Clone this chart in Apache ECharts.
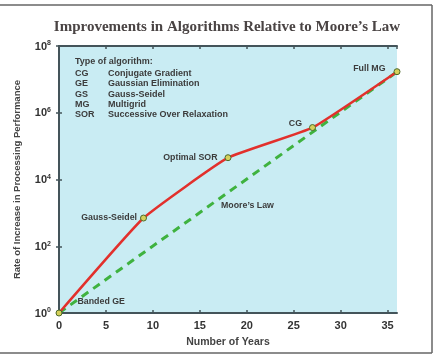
<!DOCTYPE html>
<html><head><meta charset="utf-8">
<script src="https://cdn.jsdelivr.net/npm/echarts@6/dist/echarts.min.js"></script>
<style>html,body{margin:0;padding:0;background:#fff}#c{width:435px;height:356px}</style>
</head><body><div id="c"></div>
<script>
// Data
const algoNames = ['Banded GE', 'Gauss-Seidel', 'Optimal SOR', 'CG', 'Full MG'];
const algoYears = [0, 9, 18, 27, 36];
const algoGain = [1, 700, 45000, 360000, 17000000];
const mooreYears = [0, 36];
const mooreGain = [1, 16800000];
const xTicks = [0, 5, 10, 15, 20, 25, 30, 35];
const yTickExps = [0, 2, 4, 6, 8];
const legendAbbr = ['CG', 'GE', 'GS', 'MG', 'SOR'];
const legendFull = ['Conjugate Gradient', 'Gaussian Elimination', 'Gauss-Seidel', 'Multigrid', 'Successive Over Relaxation'];

const labelFont = {fontFamily: 'Liberation Sans', fontWeight: 'bold', fontSize: 8.8, color: '#3c3c3c'};
const labelPos = [
  {position: 'right', offset: [10, -11]},
  {position: 'left', distance: 3},
  {position: 'left', distance: 7},
  {position: 'left', offset: [0, -4], distance: 7},
  {position: 'left', offset: [0, -3], distance: 8}
];

const algoData = algoYears.map((x, i) => ({
  value: [x, algoGain[i]],
  label: Object.assign({show: true, formatter: algoNames[i]}, labelFont, labelPos[i])
}));
const mooreData = mooreYears.map((x, i) => [x, mooreGain[i]]);

const axisColor = '#44545a';
const chart = echarts.init(document.getElementById('c'), null, {renderer: 'canvas'});

const legFont = 'bold 9px "Liberation Sans"';
const legendGraphics = [{
  type: 'text', left: 75, top: 57,
  style: {text: 'Type of algorithm:', font: legFont, fill: '#3c3c3c'}
}];
legendAbbr.forEach((a, i) => {
  legendGraphics.push({type: 'text', left: 75, top: 69 + i * 10.3,
    style: {text: a, font: legFont, fill: '#3c3c3c'}});
  legendGraphics.push({type: 'text', left: 108, top: 69 + i * 10.3,
    style: {text: legendFull[i], font: legFont, fill: '#3c3c3c'}});
});

chart.setOption({
  animation: false,
  backgroundColor: '#ffffff',
  title: {
    text: 'Improvements in Algorithms Relative to Moore\u2019s Law',
    left: 222, top: 15, textAlign: 'center',
    textStyle: {fontFamily: 'Liberation Serif', fontWeight: 'bold', fontSize: 15, color: '#4a4444'}
  },
  grid: {left: 59, right: 38, top: 46, bottom: 43, show: true, backgroundColor: '#c9ecf3', borderWidth: 0},
  xAxis: [{
    type: 'value', min: 0, max: 36, interval: 5,
    name: 'Number of Years', nameLocation: 'middle', nameGap: 24,
    nameTextStyle: {fontFamily: 'Liberation Sans', fontWeight: 'bold', fontSize: 10.5, color: '#444'},
    axisLine: {show: true, lineStyle: {color: axisColor, width: 2}},
    axisTick: {show: true, inside: true, length: 3, lineStyle: {color: axisColor, width: 1.5}},
    axisLabel: {showMaxLabel: false, margin: 7, fontFamily: 'Liberation Sans', fontSize: 11, color: '#333', fontWeight: 'bold'},
    splitLine: {show: false}
  }, {
    type: 'value', min: 0, max: 36, interval: 5, position: 'top',
    axisLine: {show: true, lineStyle: {color: axisColor, width: 2}},
    axisTick: {show: true, inside: true, length: 3, lineStyle: {color: axisColor, width: 1.5}},
    axisLabel: {show: false}, splitLine: {show: false}
  }],
  yAxis: [{
    type: 'log', logBase: 10, min: 1, max: 1e8, interval: 2,
    name: 'Rate of Increase in Processing Performance', nameLocation: 'middle', nameGap: 37,
    nameTextStyle: {fontFamily: 'Liberation Sans', fontWeight: 'bold', fontSize: 9.5, color: '#444'},
    axisLine: {show: true, lineStyle: {color: axisColor, width: 2}},
    axisTick: {show: true, inside: true, length: 3, lineStyle: {color: axisColor, width: 1.5}},
    axisLabel: {
      margin: 8,
      formatter: v => '{b|10}{s|' + Math.round(Math.log10(v)) + '}',
      rich: {
        b: {fontFamily: 'Liberation Sans', fontWeight: 'bold', fontSize: 11, color: '#333', verticalAlign: 'bottom'},
        s: {fontFamily: 'Liberation Sans', fontWeight: 'bold', fontSize: 7, color: '#333', verticalAlign: 'top', padding: [0, 0, 5, 0]}
      }
    },
    splitLine: {show: false}
  }, {
    type: 'log', logBase: 10, min: 1, max: 1e8, interval: 2, position: 'right',
    axisLine: {show: true, lineStyle: {color: axisColor, width: 2}},
    axisTick: {show: true, inside: true, length: 3, lineStyle: {color: axisColor, width: 1.5}},
    axisLabel: {show: false}, splitLine: {show: false}
  }],
  graphic: [
    {type: 'line', shape: {x1: 0, y1: 5, x2: 432, y2: 5}, style: {stroke: '#666', lineWidth: 1.5}},
    {type: 'line', shape: {x1: 432, y1: 5, x2: 432, y2: 353}, style: {stroke: '#666', lineWidth: 1.5}},
    {type: 'line', shape: {x1: 0, y1: 353, x2: 432, y2: 353}, style: {stroke: '#666', lineWidth: 1.5}},
    {type: 'text', left: 221, top: 201, style: {text: 'Moore\u2019s Law', font: 'bold 8.8px "Liberation Sans"', fill: '#3c3c3c'}}
  ].concat(legendGraphics),
  series: [{
    type: 'line', name: 'Moore', data: mooreData, xAxisIndex: 0, yAxisIndex: 0,
    symbol: 'none', lineStyle: {color: '#3fb23f', width: 3, type: [8, 6]}, z: 2
  }, {
    type: 'line', name: 'Algorithms', data: algoData, xAxisIndex: 0, yAxisIndex: 0,
    smooth: 0.12,
    symbol: 'circle', symbolSize: 6,
    itemStyle: {color: '#d5d05a', borderColor: '#4d6a2a', borderWidth: 1},
    lineStyle: {color: '#e2302c', width: 2.5}, z: 3
  }]
});
</script></body></html>
